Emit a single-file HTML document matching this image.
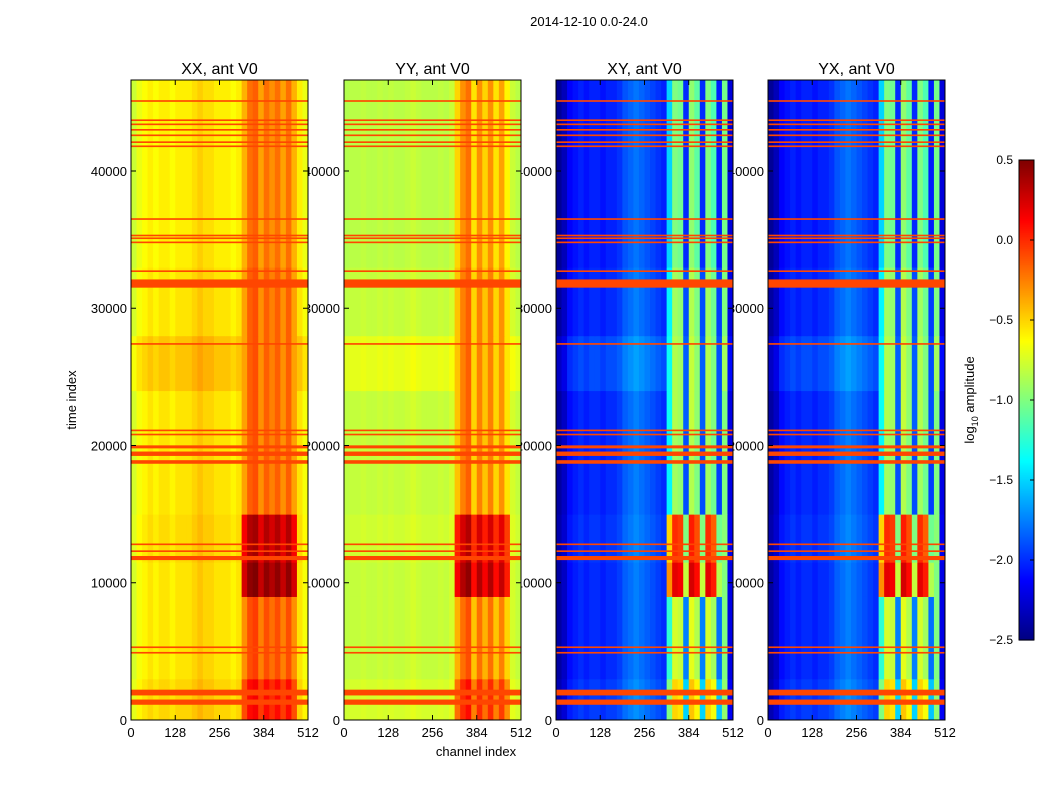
<!DOCTYPE html>
<html><head><meta charset="utf-8"><style>
body{margin:0;background:#fff;}
svg text{font-family:"Liberation Sans",sans-serif;}
</style></head><body>
<svg id="fig" width="1050" height="800" xmlns="http://www.w3.org/2000/svg">
<rect width="1050" height="800" fill="#fff"/>
<text x="589" y="26" font-size="13" text-anchor="middle">2014-12-10 0.0-24.0</text>
<text transform="translate(76,400) rotate(-90)" font-size="13" text-anchor="middle">time index</text>
<text x="476" y="756" font-size="13" text-anchor="middle">channel index</text>
<g id="panels"></g>
<g id="cbar"></g>
</svg>
<script>
// ---- data ----
const panelTitles = ["XX, ant V0","YY, ant V0","XY, ant V0","YX, ant V0"];
const channelTicks = [0,128,256,384,512];
const timeTicks = [0,10000,20000,30000,40000];
const colorTicks = [0.5,0.0,-0.5,-1.0,-1.5,-2.0,-2.5];
// column profiles: 32 bins of 16 channels (log10 amplitude)
const profXX = [-0.75,-0.65,-0.6,-0.55,-0.6,-0.55,-0.55,-0.6,-0.55,-0.55,-0.55,-0.5,-0.45,-0.5,-0.5,-0.55,-0.55,-0.55,-0.6,-0.55,-0.35,-0.15,-0.1,-0.3,-0.15,-0.25,-0.15,-0.3,-0.15,-0.35,-0.55,-0.65];
const profYY = [-0.82,-0.8,-0.8,-0.78,-0.8,-0.8,-0.78,-0.8,-0.78,-0.8,-0.8,-0.78,-0.75,-0.78,-0.8,-0.8,-0.8,-0.78,-0.8,-0.75,-0.45,-0.25,-0.15,-0.5,-0.25,-0.45,-0.25,-0.5,-0.3,-0.55,-0.75,-0.8];
const profXY = [-2.4,-2.3,-2.1,-2.05,-2.0,-2.05,-2.0,-2.0,-2.05,-2.0,-2.0,-1.95,-1.85,-1.8,-1.75,-1.8,-1.85,-1.9,-1.95,-2.0,-1.4,-0.9,-0.95,-1.9,-0.85,-1.0,-1.9,-0.9,-1.05,-1.95,-1.0,-2.2];
const profYX = [-2.4,-2.3,-2.1,-2.05,-2.0,-2.05,-2.0,-2.0,-2.05,-2.0,-2.0,-1.95,-1.85,-1.8,-1.75,-1.8,-1.85,-1.9,-1.95,-2.0,-1.4,-0.9,-0.95,-1.9,-0.85,-1.0,-1.9,-0.9,-1.05,-1.95,-1.0,-2.2];
// time segments: start, end, delta for low channels, delta for high channels (co-pol / cross-pol)
const segStart = [0,3000,9000,11500,15000,21000,24000,28000,33000];
const segEnd   = [3000,9000,11500,15000,21000,24000,28000,33000,46630];
const segLow   = [0.05,0.0,0.0,0.03,0.0,0.0,0.1,0.0,-0.03];
const segHighCo    = [0.25,0.05,0.6,0.5,0.0,0.0,0.0,0.0,-0.05];
const segHighCross = [0.4,0.15,1.1,0.9,0.0,0.05,0.05,0.0,-0.1];
// flagged rows (time, thickness in time units)
const flagTimes = [1300,2000,4900,5300,11800,12300,12800,18800,19400,19900,20800,21100,27400,31800,32700,34800,35100,35300,36500,41800,42100,42600,43000,43400,43700,45100];
const flagWidths = [380,420,120,120,300,120,120,260,320,220,120,120,120,600,120,120,120,120,120,120,120,120,120,120,120,120];
const flagValue = -0.08;

// ---- layout ----
const panelX = [131,344,556,768];
const PW = 177, PT = 80, PB = 720;
const TMAX = 46630;
const yScale = t => PB - (t/TMAX)*(PB-PT);
const xScale = (p,c) => panelX[p] + c/512*PW;
function jet(v){
  let x=(v+2.5)/3; x=Math.max(0,Math.min(1,x));
  const f=t=>Math.max(0,Math.min(1,t));
  const r=f(1.5-Math.abs(4*x-3)), g=f(1.5-Math.abs(4*x-2)), b=f(1.5-Math.abs(4*x-1));
  return `rgb(${Math.round(r*255)},${Math.round(g*255)},${Math.round(b*255)})`;
}
const NS="http://www.w3.org/2000/svg";
function mk(tag,attrs,parent){const e=document.createElementNS(NS,tag);for(const k in attrs)e.setAttribute(k,attrs[k]);parent.appendChild(e);return e;}
const panels=document.getElementById('panels');
const profiles=[profXX,profYY,profXY,profYX];
const labG=mk('g',{},panels);
for(let p=0;p<4;p++){
  timeTicks.forEach(t=>{
    const tx=mk('text',{x:panelX[p]-4,y:yScale(t)+5,'font-size':13,'text-anchor':'end'},labG);
    
    
    tx.textContent=t;
  });
}
for(let p=0;p<4;p++){
  const g=mk('g',{},panels);
  
  
  const prof=profiles[p]; const cross=p>=2;
  for(let s=0;s<segStart.length;s++){
    const y0=yScale(segEnd[s]), y1=yScale(segStart[s]);
    prof.forEach((v,b)=>{
      const high=b>=20&&b<=29;
      const d=high?(cross?segHighCross[s]:segHighCo[s]):segLow[s];
      const r=mk('rect',{x:xScale(p,b*16),y:y0,width:PW/32+0.5,height:y1-y0+0.5,fill:jet(v+d)},g);
      
      
    });
  }
  flagTimes.forEach((t,i)=>{
    const h=Math.max(1.5,flagWidths[i]/TMAX*(PB-PT));
    const r=mk('rect',{x:panelX[p],y:yScale(t)-h/2,width:PW,height:h,fill:jet(flagValue)},g);
    
    
  });
  const fr=mk('rect',{x:panelX[p],y:PT,width:PW,height:PB-PT,fill:'none',stroke:'#000','stroke-width':1},g);
  
  
  const tt=mk('text',{x:panelX[p]+PW/2,y:74,'font-size':16,'text-anchor':'middle'},g);
  
  
  tt.textContent=panelTitles[p];
  channelTicks.forEach(c=>{
    const x=xScale(p,c);
    mk('line',{x1:x,x2:x,y1:PB,y2:PB-5,stroke:'#000'},g);
    mk('line',{x1:x,x2:x,y1:PT,y2:PT+5,stroke:'#000'},g);
    const tx=mk('text',{x:x,y:PB+17,'font-size':13,'text-anchor':'middle'},g);
    
    
    tx.textContent=c;
  });
  timeTicks.forEach(t=>{
    const y=yScale(t);
    mk('line',{x1:panelX[p],x2:panelX[p]+5,y1:y,y2:y,stroke:'#000'},g);
    mk('line',{x1:panelX[p]+PW,x2:panelX[p]+PW-5,y1:y,y2:y,stroke:'#000'},g);
  });
}
// colorbar
const cb=document.getElementById('cbar');


const CBX=1019,CBW=15,CBT=160,CBB=640;
const cbY=v=>CBB-(v+2.5)/3*(CBB-CBT);
for(let i=0;i<240;i++){
  const v=-2.5+3*i/240;
  mk('rect',{x:CBX,y:cbY(v+3/240),width:CBW,height:(CBB-CBT)/240+0.6,fill:jet(v+1.5/240)},cb);
}
mk('rect',{x:CBX,y:CBT,width:CBW,height:CBB-CBT,fill:'none',stroke:'#000'},cb);
colorTicks.forEach(v=>{
  const y=cbY(v);
  mk('line',{x1:CBX+CBW-4,x2:CBX+CBW,y1:y,y2:y,stroke:'#000'},cb);
  const tx=mk('text',{x:1013,y:y+4,'font-size':12,'text-anchor':'end'},cb);
  
  
  tx.textContent=v.toFixed(1).replace('-','\u2212');
});
const cl=mk('text',{transform:'translate(974,400) rotate(-90)','font-size':13,'text-anchor':'middle'},cb);


cl.innerHTML='log<tspan font-size="9" dy="4">10</tspan><tspan dy="-4"> amplitude</tspan>';
</script>
</body></html>
